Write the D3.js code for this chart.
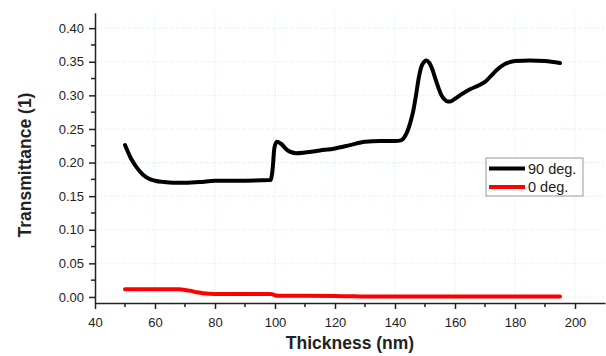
<!DOCTYPE html>
<html>
<head>
<meta charset="utf-8">
<script src="https://cdn.jsdelivr.net/npm/d3@7"></script>
<style>
  body { margin: 0; background: #fff; }
  svg { display: block; font-family: "Liberation Sans", Arial, sans-serif; }
  .grid line { stroke: #c8f5c8; stroke-width: 1; stroke-dasharray: 1,2; }
  .axis path, .axis line { stroke: #222; stroke-width: 1.5; }
  .axis text { font-size: 13px; fill: #222; }
</style>
</head>
<body>
<svg id="chart" width="606" height="356"></svg>
<script>
// 90 deg. curve
const x90 = [50, 52, 54, 56, 58, 60, 63, 66, 70, 75, 80, 90, 98.5, 99.2, 99.8, 100.6, 102, 104, 107, 110, 115, 120, 125, 130, 135, 140, 142, 143, 144, 145, 146, 147, 148, 149, 150.5, 151.5, 152.5, 153.5, 154.5, 155.5, 156.5, 157.5, 158.5, 160, 162, 165, 168, 170, 172, 174, 176, 178, 180, 185, 190, 195];
const y90 = [0.226, 0.206, 0.192, 0.182, 0.176, 0.173, 0.171, 0.170, 0.170, 0.171, 0.173, 0.173, 0.174, 0.190, 0.222, 0.231, 0.228, 0.219, 0.214, 0.215, 0.218, 0.221, 0.226, 0.231, 0.232, 0.232, 0.233, 0.237, 0.245, 0.258, 0.275, 0.300, 0.328, 0.345, 0.352, 0.348, 0.338, 0.324, 0.311, 0.300, 0.294, 0.291, 0.291, 0.295, 0.301, 0.309, 0.315, 0.320, 0.329, 0.338, 0.345, 0.349, 0.351, 0.352, 0.351, 0.348];
// 0 deg. curve
const x0 = [50, 55, 60, 65, 68, 70, 72, 74, 76, 78, 80, 90, 98, 99, 100, 101, 105, 110, 120, 125, 130, 140, 160, 180, 195];
const y0 = [0.0115, 0.0115, 0.0115, 0.0115, 0.0113, 0.0105, 0.009, 0.007, 0.0055, 0.0047, 0.0045, 0.0045, 0.0045, 0.0042, 0.0025, 0.0018, 0.0018, 0.0018, 0.0015, 0.001, 0.0006, 0.0005, 0.0005, 0.0005, 0.0005];

const xTicks = [40, 60, 80, 100, 120, 140, 160, 180, 200];
const yTicks = [0.00, 0.05, 0.10, 0.15, 0.20, 0.25, 0.30, 0.35, 0.40];
const legendLabels = ["90 deg.", "0 deg."];
const colors = ["#000000", "#ff0000"];

const svg = d3.select("#chart");
const x = d3.scaleLinear().domain([40, 210]).range([95, 605]);
const y = d3.scaleLinear().domain([-0.009, 0.423]).range([303, 12.7]);

// grid
const grid = svg.append("g").attr("class", "grid");
grid.selectAll(".gx").data(xTicks.filter(d => d > 40)).join("line")
  .attr("x1", d => x(d)).attr("x2", d => x(d)).attr("y1", y.range()[1]).attr("y2", y.range()[0]);
grid.selectAll(".gy").data(yTicks).join("line")
  .attr("y1", d => y(d)).attr("y2", d => y(d)).attr("x1", x.range()[0]).attr("x2", x.range()[1]);

// axes
const xMinor = d3.range(50, 210, 20);
const yMinor = d3.range(0.025, 0.42, 0.05);

const gx = svg.append("g").attr("class", "axis").attr("transform", "translate(0,303)")
  .call(d3.axisBottom(x).tickValues(xTicks).tickFormat(d3.format("d")).tickSize(6).tickSizeOuter(0));
gx.selectAll("text").attr("dy", "1.15em");
gx.selectAll(".minor").data(xMinor).join("line").attr("class", "minor")
  .attr("x1", d => x(d)).attr("x2", d => x(d)).attr("y1", 0).attr("y2", 4);

const gy = svg.append("g").attr("class", "axis").attr("transform", "translate(95,0)")
  .call(d3.axisLeft(y).tickValues(yTicks).tickFormat(d3.format(".2f")).tickSize(6).tickSizeOuter(0));
gy.selectAll("text").attr("dx", "-0.15em");
gy.selectAll(".minor").data(yMinor).join("line").attr("class", "minor")
  .attr("y1", d => y(d)).attr("y2", d => y(d)).attr("x1", 0).attr("x2", -4);

// curves
const line = d3.line().x(d => x(d[0])).y(d => y(d[1])).curve(d3.curveMonotoneX);
const series = [d3.zip(x90, y90), d3.zip(x0, y0)];
svg.selectAll(".curve").data(series).join("path")
  .attr("class", "curve")
  .attr("fill", "none")
  .attr("stroke", (d, i) => colors[i])
  .attr("stroke-width", 4)
  .attr("stroke-linejoin", "round")
  .attr("stroke-linecap", "round")
  .attr("d", line);

// axis titles
svg.append("text").attr("x", 350).attr("y", 349).attr("text-anchor", "middle")
  .attr("font-weight", "bold").attr("font-size", 17.5).attr("fill", "#222").text("Thickness (nm)");
svg.append("text").attr("transform", "translate(31,165) rotate(-90)").attr("text-anchor", "middle")
  .attr("font-weight", "bold").attr("font-size", 17.5).attr("fill", "#222").text("Transmittance (1)");

// legend
const lg = svg.append("g").attr("transform", "translate(486,158)");
lg.append("rect").attr("width", 97).attr("height", 38).attr("fill", "#fff").attr("stroke", "#999").attr("stroke-width", 1);
legendLabels.forEach((t, i) => {
  const yy = 10.5 + i * 18.5;
  lg.append("line").attr("x1", 3).attr("x2", 39).attr("y1", yy).attr("y2", yy)
    .attr("stroke", colors[i]).attr("stroke-width", 4);
  lg.append("text").attr("x", 42).attr("y", yy + 5).attr("font-size", 14.5).attr("fill", "#222").text(t);
});
</script>
</body>
</html>
